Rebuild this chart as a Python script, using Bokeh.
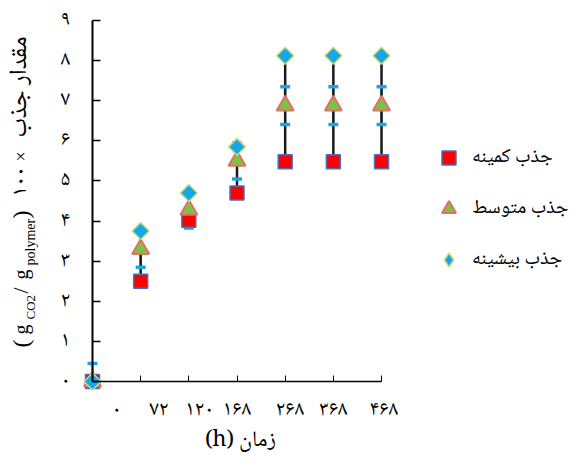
import math
from bokeh.plotting import figure
from bokeh.models import (ColumnDataSource, FixedTicker, Whisker, TeeHead, Label,
                          LabelSet, Legend, LegendItem, Range1d)
from bokeh.core.properties import value
from bokeh.embed import file_html
from bokeh.resources import INLINE

# ---------------- data ----------------
time_labels = ["۰", "۷۲", "۱۲۰", "۱۶۸", "۲۶۸", "۳۶۸", "۴۶۸"]
x_idx = [0, 1, 2, 3, 4, 5, 6]
label_pos = [0.5, 1.38, 2.22, 3.0, 4.1, 5.0, 6.05]
min_uptake = [0.0, 2.5, 4.02, 4.7, 5.48, 5.48, 5.48]
mid_uptake = [0.0, 3.3, 4.28, 5.5, 6.88, 6.88, 6.88]
max_uptake = [0.0, 3.75, 4.7, 5.85, 8.12, 8.12, 8.12]
mid_err_low = [0.0, 0.45, 0.45, 0.45, 0.47, 0.47, 0.47]
mid_err_up = [0.45, 0.45, 0.45, 0.45, 0.47, 0.47, 0.47]
y_ticks = [0, 1, 2, 3, 4, 5, 6, 7, 8, 9]
y_tick_labels = ["۰", "۱", "۲", "۳", "۴", "۵", "۶", "۷", "۸", "۹"]
series_names = ["جذب کمینه", "جذب متوسط", "جذب بیشینه"]
x_title = "(h) زمان"

# ---------------- layout helpers (canvas px -> data) ----------------
W, H = 580, 460
X0, XS = 92.0, 48.17     # canvas x of data 0, px per unit
Y0, YS = 381.0, 40.11    # canvas y of data 0, px per unit
def dx(px):
    return (px - X0) / XS
def dy(py):
    return (Y0 - py) / YS

p = figure(width=W, height=H, output_backend="svg", toolbar_location=None,
           x_range=Range1d(dx(0), dx(W)), y_range=Range1d(dy(H), dy(0)),
           min_border=0)
p.outline_line_color = None
p.grid.visible = False
p.background_fill_color = "white"

serif = "Noto Naskh Arabic, Liberation Serif, DejaVu Sans"
latin = "Liberation Serif"

# y axis (ticks only, labels drawn as text below)
p.yaxis.fixed_location = 0
p.yaxis.bounds = (0, 9)
p.yaxis.ticker = FixedTicker(ticks=y_ticks)
p.yaxis.major_tick_in = 8
p.yaxis.major_tick_out = 0
p.yaxis.minor_tick_line_color = None
p.yaxis.axis_line_width = 2
p.yaxis.major_tick_line_width = 1.5
p.yaxis.major_label_standoff = 0
p.yaxis.major_label_text_color = None

# x axis
p.xaxis.fixed_location = 0
p.xaxis.bounds = (0, 6)
p.xaxis.ticker = FixedTicker(ticks=x_idx[1:])
p.xaxis.major_tick_in = 6
p.xaxis.major_tick_out = 0
p.xaxis.minor_tick_line_color = None
p.xaxis.axis_line_width = 1.5
p.xaxis.major_tick_line_width = 1
p.xaxis.major_label_standoff = 0
p.xaxis.major_label_text_color = None

src = ColumnDataSource(dict(x=x_idx, lo=min_uptake, mid=mid_uptake, hi=max_uptake,
                            elo=[m - e for m, e in zip(mid_uptake, mid_err_low)],
                            eup=[m + e for m, e in zip(mid_uptake, mid_err_up)]))

cyan = "#18a6e4"
# cyan error bar stems of the mean series (under the black range line)
p.add_layout(Whisker(source=src, base="x", lower="elo", upper="eup", line_color=cyan,
                     line_width=2, upper_head=None, lower_head=None))
# black range line (min to max)
p.add_layout(Whisker(source=src, base="x", lower="lo", upper="hi", line_color="#1a1a1a",
                     line_width=2.5, upper_head=None, lower_head=None))
# cyan caps on top
p.add_layout(Whisker(source=src, base="x", lower="elo", upper="eup", line_color=None,
                     upper_head=TeeHead(size=10, line_color=cyan, line_width=3.5),
                     lower_head=TeeHead(size=10, line_color=cyan, line_width=3.5)))

r_min = p.scatter("x", "lo", source=src, marker="square", size=14,
                  fill_color="#ff0000", line_color="#4a6fc0", line_width=1.5)
r_mid = p.scatter("x", "mid", source=src, marker="triangle", size=17,
                  fill_color="#7dc242", line_color="#e07068", line_width=2)
r_max = p.scatter("x", "hi", source=src, marker="square", angle=math.pi / 4, size=12,
                  fill_color="#16a7e8", line_color="#c9dc7a", line_width=1.5)
# legend-only glyph for the diamond series (not drawn in the plot: NaN position)
r_max_leg = p.scatter(x=[float("nan")], y=[float("nan")], marker="diamond", size=14,
                      fill_color="#16a7e8", line_color="#c9dc7a", line_width=1.5)

legend = Legend(items=[LegendItem(label=series_names[0], renderers=[r_min]),
                       LegendItem(label=series_names[1], renderers=[r_mid]),
                       LegendItem(label=series_names[2], renderers=[r_max_leg])],
                location=(431, 183), orientation="vertical",
                glyph_width=35, glyph_height=35, label_standoff=6, spacing=16,
                padding=0, margin=0, border_line_color=None, background_fill_alpha=0,
                label_text_font=serif, label_text_font_size="20px",
                label_text_color="black")
p.add_layout(legend)

# y tick labels
ytick_src = ColumnDataSource(dict(x=[dx(65)] * len(y_ticks), y=y_ticks, t=y_tick_labels))
p.add_layout(LabelSet(x="x", y="y", text="t", source=ytick_src, text_align="center",
                      text_baseline="middle", text_font=value(serif),
                      text_font_size="21px", text_color="black"))

# x tick labels
tick_src = ColumnDataSource(dict(x=label_pos, y=[dy(410)] * len(label_pos), t=time_labels))
p.add_layout(LabelSet(x="x", y="y", text="t", source=tick_src, text_align="center",
                      text_baseline="middle", text_font=value(serif),
                      text_font_size="21px", text_color="black"))

# x title
p.add_layout(Label(x=dx(240), y=dy(440), text=x_title, text_align="center",
                   text_baseline="middle", text_font=serif, text_font_size="22px",
                   text_color="black"))

# y title in pieces (rotated, reading bottom to top)
pieces = [
    ("(", 347, 20, "24px", latin),
    ("g", 334, 20, "20px", latin),
    ("CO2", 319, 30, "13px", latin),
    ("/", 293, 20, "22px", latin),
    ("g", 279, 20, "20px", latin),
    ("polymer", 265, 30, "14px", latin),
    (")", 218, 20, "24px", latin),
    ("۱۰۰", 196, 20, "22px", serif),
    ("×", 161, 20, "18px", latin),
    ("مقدار جذب", 137, 20, "25px", serif),
]
for txt, ystart, xc, fs, font in pieces:
    p.add_layout(Label(x=dx(xc), y=dy(ystart), text=txt, angle=math.pi / 2,
                       text_align="left", text_baseline="middle", text_font=font,
                       text_font_size=fs, text_color="black"))

open("out.html", "w").write(file_html(p, INLINE))
